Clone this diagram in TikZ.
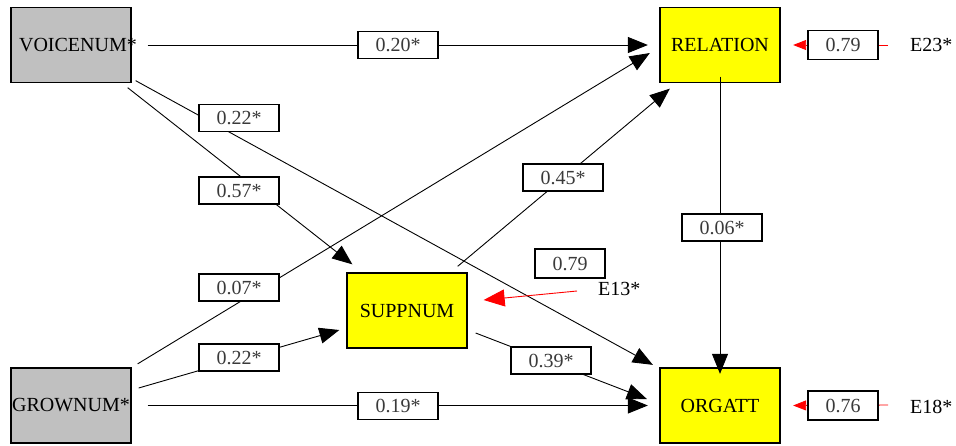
\documentclass[tikz,border=0pt]{standalone}
\usepackage{fontspec}
\setmainfont{Liberation Serif}
\usetikzlibrary{arrows.meta}
\definecolor{obsgray}{HTML}{C0C0C0}
\definecolor{latyellow}{HTML}{FFFF00}
\definecolor{coeftext}{HTML}{3A3A3A}
\begin{document}
\begin{tikzpicture}[x=1pt,y=-1pt,
  every node/.style={font=\fontsize{20}{24}\selectfont},
  var/.style={draw=black, line width=1.3pt, minimum width=120pt, minimum height=75pt, inner sep=0pt},
  obs/.style={var, fill=obsgray},
  lat/.style={var, fill=latyellow},
  coef/.style={draw=black, line width=1.2pt, fill=white, minimum width=80pt, minimum height=27pt, inner sep=0pt, text=coeftext},
  ecoef/.style={coef, minimum width=70pt, minimum height=29pt},
  effect/.style={line width=0.9pt, -{Triangle[length=20pt,width=16pt]}},
  errsmall/.style={red, line width=0.9pt, -{Triangle[length=13pt,width=10pt]}},
  errbig/.style={red, line width=0.9pt, -{Triangle[length=21pt,width=17pt]}},
  ename/.style={inner sep=0pt, anchor=west}
]
\useasboundingbox (0,0) rectangle (956,445);

% measured and latent variables
\node[obs] (VOICENUM) at (71,45) {\makebox[0pt]{\hspace*{14pt}VOICENUM*}};
\node[obs] (GROWNUM) at (71,405.5) {GROWNUM*};
\node[lat] (RELATION) at (720,45) {RELATION};
\node[lat] (SUPPNUM) at (407,310.5) {SUPPNUM};
\node[lat] (ORGATT) at (720,405.5) {ORGATT};

% error terms
\node[ename] (E23) at (910,45) {E23*};
\node[ename] (E13) at (598,289) {E13*};
\node[ename] (E18) at (910,407) {E18*};

% structural paths
\draw[effect] ([xshift=16]VOICENUM.east) -- ([xshift=-11.5]RELATION.west);
\draw[effect] ([shift={(4,-2.5)}]VOICENUM.south east) -- ([shift={(-6.5,-2.5)}]ORGATT.north west);
\draw[effect] ([shift={(-4,4.5)}]VOICENUM.south east) -- ([shift={(6,-8)}]SUPPNUM.north west);
\draw[effect] ([shift={(6,-3.5)}]GROWNUM.north east) -- ([shift={(-9.5,8)}]RELATION.west);
\draw[effect] ([shift={(7,-17.5)}]GROWNUM.east) -- ([shift={(-7,19.5)}]SUPPNUM.west);
\draw[effect] ([xshift=16]GROWNUM.east) -- ([xshift=-11.5]ORGATT.west);
\draw[effect] ([shift={(-10,-6)}]SUPPNUM.north east) -- ([shift={(10.5,5.5)}]RELATION.south west);
\draw[effect] ([shift={(8,22.5)}]SUPPNUM.east) -- ([shift={(-12.5,-6.5)}]ORGATT.west);
\draw[effect] ([yshift=6.5]RELATION.south) -- ([yshift=-6.5]ORGATT.north);

% disturbances
\draw[errsmall] ([xshift=-22]E23.west) -- ([xshift=12.5]RELATION.east);
\draw[errbig] ([shift={(-21,2)}]E13.west) -- ([shift={(16,-10.5)}]SUPPNUM.east);
\draw[errsmall] ([shift={(-22,-2)}]E18.west) -- ([xshift=12.5]ORGATT.east);

% path coefficients
\node[coef] (c1) at (398,45) {0.20*};
\node[coef] (c2) at (239,118) {0.22*};
\node[coef] (c3) at (239,190.5) {0.57*};
\node[coef] (c4) at (239,287.5) {0.07*};
\node[coef] (c5) at (239,357.5) {0.22*};
\node[coef] (c6) at (398,406) {0.19*};
\node[coef] (c7) at (563,177.5) {0.45*};
\node[coef] (c8) at (551,360.5) {0.39*};
\node[coef] (c9) at (722,227.5) {0.06*};
\node[ecoef] (d1) at (843,45) {0.79};
\node[ecoef] (d2) at (570,263.5) {0.79};
\node[ecoef] (d3) at (843,405.5) {0.76};
\end{tikzpicture}
\end{document}
